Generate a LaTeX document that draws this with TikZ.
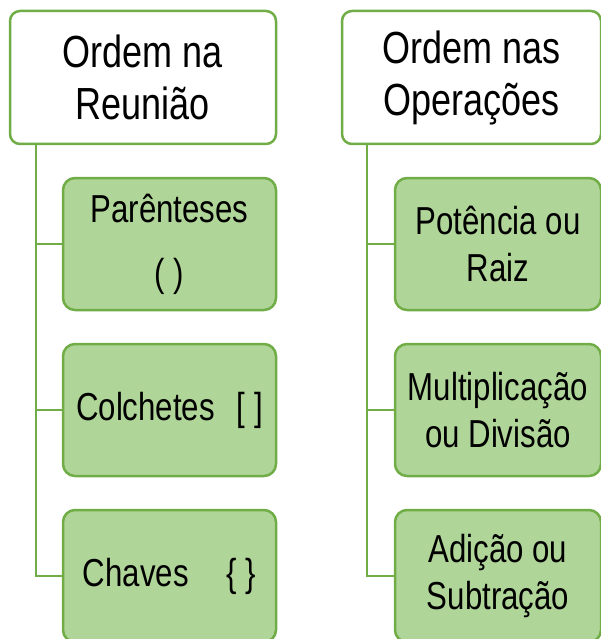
\documentclass[tikz,border=0pt]{standalone}
\usepackage{fontspec}
\setmainfont{Liberation Sans}[FakeStretch=0.8]
\usepackage{tikz}
\usetikzlibrary{positioning}
\pgfdeclarelayer{background}
\pgfsetlayers{background,main}
\definecolor{framegreen}{HTML}{70AD47}
\definecolor{leafgreen}{HTML}{B0D598}
\begin{document}
\begin{tikzpicture}[x=1pt, y=-1pt,
				headnode/.style={rectangle, rounded corners=10pt, draw=framegreen, line width=2.5pt, fill=white, align=center, minimum height=133pt, font=\fontsize{45pt}{52pt}\selectfont},
				leafnode/.style={rectangle, rounded corners=12pt, draw=framegreen, line width=2.5pt, fill=leafgreen, align=center, minimum height=132pt, font=\fontsize{39pt}{47pt}\selectfont},
				branch/.style={draw=framegreen, line width=2.5pt},
				]
				\useasboundingbox (0,0) rectangle (601,639);
				%Nodes
				\node[headnode, minimum width=266pt]      (reun) 	at 	(143,77.5)     {Ordem na\\Reunião};
				\node[headnode, minimum width=259pt]      (oper) 	at 	(471.5,77.5)   {Ordem nas\\Operações};
				\node[leafnode, minimum width=213pt]      (par) 	at 	(169.5,244)    {Parênteses\\[17pt]( )};
				\node[leafnode, minimum width=213pt]      (col) 	at 	(169.5,410)    {Colchetes\hspace{22pt}[ ]};
				\node[leafnode, minimum width=213pt]      (cha) 	at 	(169.5,576)    {Chaves\hspace{38pt}\{ \}};
				\node[leafnode, minimum width=206pt]      (pot) 	at 	(498,244)      {Potência ou\\Raiz};
				\node[leafnode, minimum width=206pt]      (mul) 	at 	(498,410)      {Multiplicação\\ou Divisão};
				\node[leafnode, minimum width=206pt]      (adi) 	at 	(498,576)      {Adição ou\\Subtração};
				
				\begin{pgfonlayer}{background}
				%Lines
				\draw[branch] ([xshift=27pt]reun.south west) |- (par.west);
				\draw[branch] ([xshift=27pt]reun.south west) |- (col.west);
				\draw[branch] ([xshift=27pt]reun.south west) |- (cha.west);
				\draw[branch] ([xshift=26pt]oper.south west) |- (pot.west);
				\draw[branch] ([xshift=26pt]oper.south west) |- (mul.west);
				\draw[branch] ([xshift=26pt]oper.south west) |- (adi.west);
				\end{pgfonlayer}
			\end{tikzpicture}
\end{document}
